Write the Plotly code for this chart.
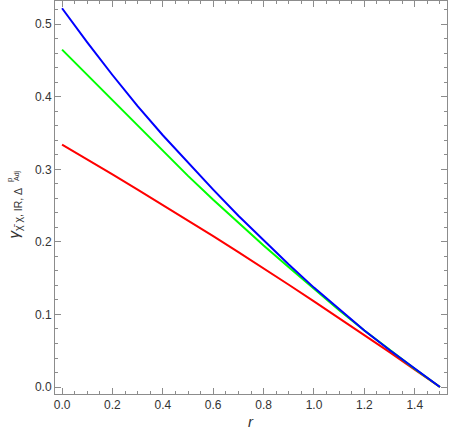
import plotly.graph_objects as go

# values
r = [0.0, 0.1, 0.2, 0.3, 0.4, 0.5, 0.6, 0.7, 0.8, 0.9, 1.0, 1.1, 1.2, 1.3, 1.4, 1.5]
gamma_red = [0.334, 0.314, 0.293, 0.272, 0.251, 0.229, 0.208, 0.186, 0.164, 0.141,
             0.118, 0.095, 0.072, 0.048, 0.024, 0.0]
gamma_green = [0.465, 0.430, 0.395, 0.360, 0.325, 0.291, 0.258, 0.226, 0.195, 0.165,
               0.135, 0.106, 0.078, 0.051, 0.025, 0.0]
gamma_blue = [0.522, 0.475, 0.430, 0.387, 0.347, 0.309, 0.272, 0.236, 0.202, 0.169,
              0.137, 0.107, 0.078, 0.051, 0.025, 0.0]

FRAME = "#8c8c8c"
TEXT = "#333333"
FONT = "Liberation Sans, Arial, sans-serif"

W, H = 449, 436
ML, MR, MT, MB = 55, 2, 1, 42


def px_to_paper(xp, yp):
    # pixel position on the page -> paper coords of the plot area
    return (xp - ML) / (W - ML - MR), (H - MB - yp) / (H - MT - MB)


def label(text, xp, yp, size, angle=0, yanchor="middle"):
    x, y = px_to_paper(xp, yp)
    return dict(text=text, x=x, y=y, xref="paper", yref="paper", textangle=angle,
                xanchor="center", yanchor=yanchor, showarrow=False,
                font=dict(family=FONT, size=size, color=TEXT))


fig = go.Figure()
for ys, col in [(gamma_red, "#ff0000"), (gamma_green, "#00ff00"), (gamma_blue, "#0000ff")]:
    fig.add_trace(go.Scatter(x=r, y=ys, mode="lines", line=dict(color=col, width=2),
                             showlegend=False, hoverinfo="skip"))

axis_common = dict(
    showgrid=False, zeroline=False, showline=True, linecolor=FRAME, linewidth=1,
    mirror="allticks", ticks="inside", ticklen=6, tickcolor=FRAME, tickwidth=1,
    tickfont=dict(family=FONT, size=12, color=TEXT),
)

fig.update_layout(
    width=W, height=H,
    margin=dict(l=ML, r=MR, t=MT, b=MB),
    paper_bgcolor="white", plot_bgcolor="white",
    xaxis=dict(range=[-0.028, 1.528], tickvals=[0, 0.2, 0.4, 0.6, 0.8, 1.0, 1.2, 1.4],
               ticktext=["0.0", "0.2", "0.4", "0.6", "0.8", "1.0", "1.2", "1.4"],
               minor=dict(dtick=0.05, tick0=0, ticks="inside", ticklen=3, tickcolor=FRAME),
               **axis_common),
    yaxis=dict(range=[-0.0096, 0.532], tickvals=[0, 0.1, 0.2, 0.3, 0.4, 0.5],
               ticktext=["0.0", "0.1", "0.2", "0.3", "0.4", "0.5"],
               minor=dict(dtick=0.02, tick0=0, ticks="inside", ticklen=3, tickcolor=FRAME),
               **axis_common),
    annotations=[
        label("<i>r</i>", 251, 421, 15),
        label("<i>γ</i><sub>χ̄ χ, IR, Δ</sub>", 14, 241, 15, -90, yanchor="bottom"),
        label("p", 9, 180, 8, -90),
        label("Adj", 17, 176, 7, -90),
    ],
)

fig.write_html("out.html", config={"displayModeBar": False},
               post_script="document.body.style.margin='0';")
